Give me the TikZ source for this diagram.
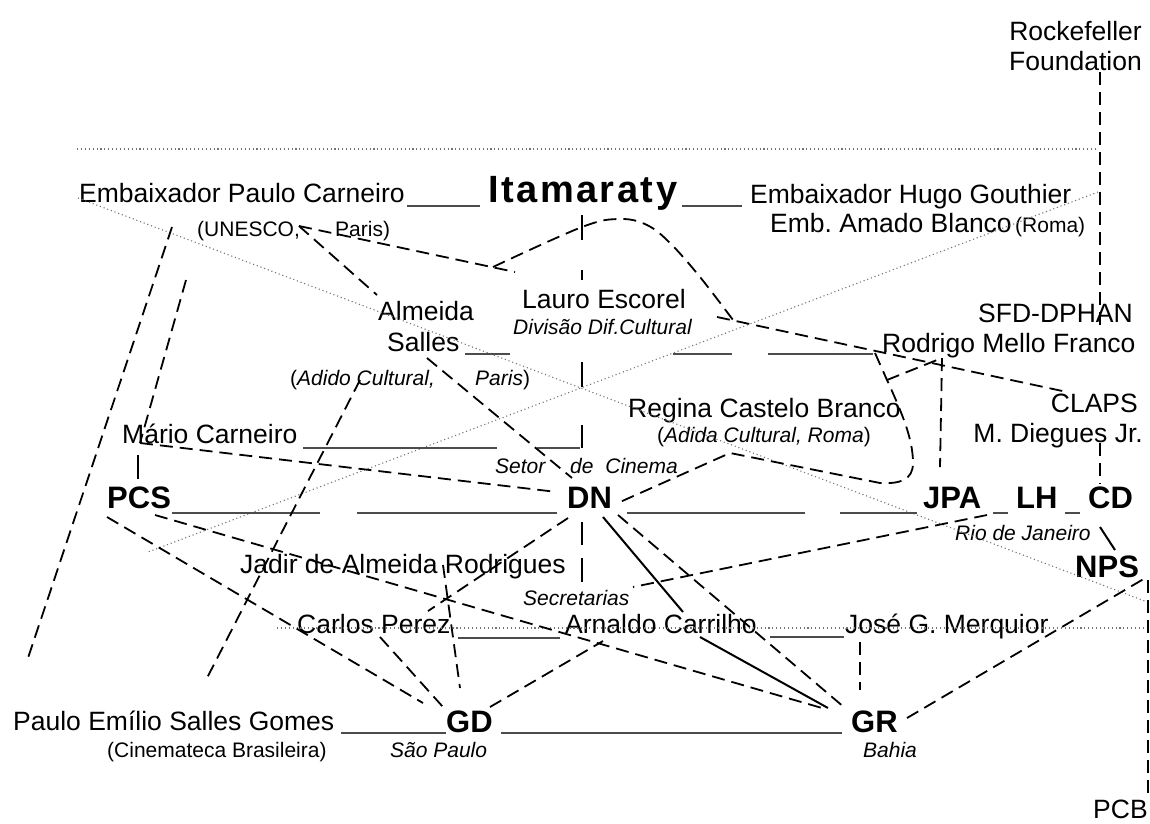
\documentclass[tikz,border=0pt]{standalone}
\usepackage{fontspec}
\setmainfont{Liberation Sans}
\newcommand{\fmain}{\fontsize{26.5}{30}\selectfont}
\newcommand{\fsm}{\fontsize{21}{24}\selectfont}
\newcommand{\fsmit}{\fontsize{21}{24}\selectfont\itshape}
\newcommand{\fbf}{\fontsize{31}{36}\selectfont\bfseries}
\newcommand{\fita}{\fontsize{38}{44}\selectfont\bfseries}
\begin{document}
\begin{tikzpicture}[x=1pt,y=-1pt,
  lbl/.style={inner sep=0pt, anchor=base west, font=\fmain},
  lblr/.style={inner sep=0pt, anchor=base east, font=\fmain},
  dsh/.style={draw=black, line width=1.8pt, dash pattern=on 13pt off 7pt},
  dotl/.style={draw=black!55, line width=1.1pt, dash pattern=on 1.1pt off 2.8pt},
  uline/.style={draw=black!70, line width=1.5pt},
  sol/.style={draw=black, line width=2pt},
  tickl/.style={draw=black, line width=1.4pt}]
\useasboundingbox (0,0) rectangle (1150,823);
% ---------- texts ----------
\node[lblr] (rock) at (1142,40) {Rockefeller};
\node[lblr] (found) at (1142,70) {Foundation};
\node[lbl] (epc) at (79,202) {Embaixador Paulo Carneiro};
\node[lbl,font=\fita] (ita) at (488,202) {I\kern2.5pt t\kern2.5pt a\kern2.5pt m\kern2.5pt a\kern2.5pt r\kern2.5pt a\kern2.5pt t\kern2.5pt y};
\node[lbl] (ehg) at (750,203) {Embaixador Hugo Gouthier};
\node[lbl,font=\fsm] (unesco) at (197,236) {(UNESCO,};
\node[lbl,font=\fsm] (paris1) at (335,236) {Paris)};
\node[lbl] (eab) at (770,232) {Emb.\ Amado Blanco};
\node[lbl,font=\fsm] (roma) at (1015,232) {(Roma)};
\node[lbl] (alm) at (378,320) {Almeida};
\node[lbl] (sal) at (387,351) {Salles};
\node[lbl,font=\fsm] (adido) at (290,385) {(\textit{Adido Cultural,}};
\node[lbl,font=\fsm] (paris2) at (475,385) {\textit{Paris})};
\node[lbl] (lauro) at (522,308) {Lauro Escorel};
\node[lbl,font=\fsmit] (ddc) at (513,334) {Divisão Dif.Cultural};
\node[lblr] (sfd) at (1133,322) {SFD-DPHAN};
\node[lbl] (rmf) at (882,352) {Rodrigo Mello Franco};
\node[lbl] (rcb) at (628,417) {Regina Castelo Branco};
\node[lbl,font=\fsm] (adida) at (657,442) {(\textit{Adida Cultural, Roma})};
\node[lblr] (claps) at (1138,412) {CLAPS};
\node[lblr] (mdj) at (1143,442) {M.\ Diegues Jr.};
\node[lbl] (mario) at (122,443) {Mário Carneiro};
\node[lbl,font=\fsmit] (setor) at (495,473) {Setor};
\node[lbl,font=\fsmit] (cinema) at (570,473) {de\kern6pt\ Cinema};
\node[lbl,font=\fbf] (pcs) at (107,508) {PCS};
\node[lbl,font=\fbf] (dn) at (567,508) {DN};
\node[lbl,font=\fbf] (jpa) at (923,508) {JPA};
\node[lbl,font=\fbf] (lh) at (1016,508) {LH};
\node[lbl,font=\fbf] (cd) at (1088,508) {CD};
\node[lbl,font=\fsmit] (rio) at (955,540) {Rio de Janeiro};
\node[lbl,font=\fbf] (nps) at (1075,577) {NPS};
\node[lbl] (jadir) at (240,573) {Jadir de Almeida Rodrigues};
\node[lbl,font=\fsmit] (secr) at (523,605) {Secretarias};
\node[lbl] (carlos) at (297,633) {Carlos Perez};
\node[lbl] (arn) at (565,633) {Arnaldo Carrilho};
\node[lbl] (jose) at (845,633) {José G.\ Merquior};
\node[lbl] (peg) at (13,730) {Paulo Emílio Salles Gomes};
\node[lbl,font=\fbf] (gd) at (446,732) {GD};
\node[lbl,font=\fbf] (gr) at (851,732) {GR};
\node[lbl,font=\fsm] (cb) at (107,757) {(Cinemateca Brasileira)};
\node[lbl,font=\fsmit] (sp) at (390,757) {São Paulo};
\node[lbl,font=\fsmit] (bahia) at (863,757) {Bahia};
\node[lbl] (pcb) at (1093,818) {PCB};
% ---------- connector end points ----------
\coordinate (rf) at (1100,72);
\coordinate (sfdtop) at (1100,327);
\coordinate (npsR) at (1148,580);
\coordinate (pcbR) at (1148,795);
\coordinate (epcA) at (172,227);
\coordinate (farL) at (28,658);
\coordinate (epcB) at (186,280);
\coordinate (marioL) at (140,443);
\coordinate (dnW) at (557,492);
\coordinate (adidoA) at (360,380);
\coordinate (adidoB) at (207,678);
\coordinate (unC) at (299,226);
\coordinate (almN) at (377,295);
\coordinate (salS) at (427,358);
\coordinate (dnNW) at (572,478);
\coordinate (lauroNW) at (515,272);
\coordinate (ce) at (733,320);
\coordinate (itaR) at (717,317);
\coordinate (clapsW) at (1067,392);
\coordinate (lp) at (875,353);
\coordinate (lk) at (887,380);
\coordinate (rmfS) at (942,358);
\coordinate (jpaN) at (940,467);
\coordinate (sn) at (730,453);
\coordinate (dnE) at (620,502);
\coordinate (mdjS) at (1100,443);
\coordinate (cdN) at (1100,484);
\coordinate (jpaSW) at (987,515);
\coordinate (secrE) at (633,587);
\coordinate (pcsSE) at (155,515);
\coordinate (grW) at (822,708);
\coordinate (pcsSW) at (107,517);
\coordinate (gdNW) at (423,703);
\coordinate (carlosS) at (380,637);
\coordinate (gdN1) at (443,707);
\coordinate (jadirS) at (443,565);
\coordinate (gdN2) at (460,688);
\coordinate (dnSW) at (568,518);
\coordinate (carlosE) at (428,611);
\coordinate (gdNE) at (490,707);
\coordinate (arnS) at (603,641);
\coordinate (dnSE) at (618,515);
\coordinate (grN) at (845,708);
\coordinate (grE) at (907,718);
\coordinate (npsR2) at (1147,577);
\coordinate (joseS) at (860,642);
\coordinate (grN2) at (860,690);
\coordinate (dnS) at (603,517);
\coordinate (arnN) at (683,612);
\coordinate (arnE) at (700,637);
\coordinate (grNW) at (828,708);
\coordinate (cdS) at (1100,527);
\coordinate (npsN) at (1115,550);
\coordinate (marioS) at (138,455);
\coordinate (pcsN) at (138,479);
% ---------- dotted lines ----------
\draw[dotl] (77,149) -- (1098,149);
\draw[dotl] (78,198) -- (1150,603);
\draw[dotl] (1098,192) -- (148,552);
\draw[dotl] (277,628) -- (1150,628);
% ---------- underscore rules ----------
\foreach \a/\b/\y in {407/480/206, 682/742/206, 465/510/354, 673/732/354, 768/873/354,
  303/497/448, 537/580/448, 172/320/513, 357/557/513, 627/805/513, 840/917/513,
  993/1008/513, 1065/1080/513, 458/560/638, 770/844/637, 341/446/733, 501/842/733}
  \draw[uline] (\a,\y) -- (\b,\y);
% ---------- ticks on x=582 ----------
\foreach \a/\b in {215/240, 270/280, 362/387, 425/448, 522/545, 558/582}
  \draw[tickl] (582,\a) -- (582,\b);
% ---------- dashed connectors ----------
\draw[dsh] (rf) -- (sfdtop);
\draw[dsh] (npsR) -- (pcbR);
\draw[dsh] (epcA) -- (farL);
\draw[dsh] (epcB) -- (marioL);
\draw[dsh] (marioL) -- (dnW);
\draw[dsh] (adidoA) -- (adidoB);
\draw[dsh] (unC) -- (almN);
\draw[dsh] (salS) -- (dnNW);
\draw[dsh] (unC) -- (lauroNW);
\draw[dsh] plot[smooth, tension=0.6] coordinates {(493,267) (582,227) (620,219) (647,225) (670,243) (700,277) (733,320)};
\draw[dsh] (itaR) -- (clapsW);
\draw[dsh] (lp) -- (lk) .. controls (903,415) and (913,440) .. (913,463)
  .. controls (913,480) and (900,484) .. (880,483) -- (sn) -- (dnE);
\draw[dsh] (lk) -- (rmfS);
\draw[dsh] (rmfS) -- (jpaN);
\draw[dsh] (mdjS) -- (cdN);
\draw[dsh] (jpaSW) -- (secrE);
\draw[dsh] (pcsSE) -- (grW);
\draw[dsh] (pcsSW) -- (gdNW);
\draw[dsh] (carlosS) -- (gdN1);
\draw[dsh] (jadirS) -- (gdN2);
\draw[dsh] (dnSW) -- (carlosE);
\draw[dsh] (gdNE) -- (arnS);
\draw[dsh] (dnSE) -- (grN);
\draw[dsh] (grE) -- (npsR2);
\draw[dsh] (joseS) -- (grN2);
% ---------- solid connectors ----------
\draw[sol] (dnS) -- (arnN);
\draw[sol] (arnE) -- (grNW);
\draw[sol] (cdS) -- (npsN);
\draw[line width=1.4pt] (marioS) -- (pcsN);
\end{tikzpicture}
\end{document}
